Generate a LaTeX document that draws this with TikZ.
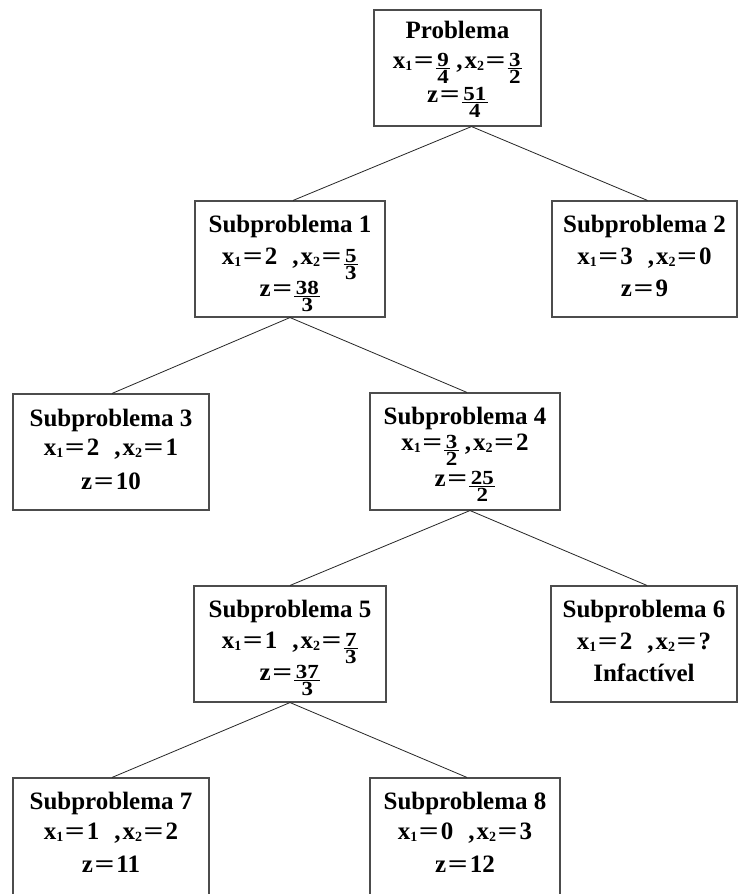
\documentclass[tikz,border=0pt]{standalone}
\usepackage{fontspec}
\usepackage{graphicx}
\setmainfont{Liberation Serif}
\usetikzlibrary{calc}
\newcommand\fsm{\fontsize{20bp}{20bp}\selectfont}
\newcommand\fr[2]{\raisebox{2bp}{\vtop{\tabskip=0pt\offinterlineskip\halign{\hfil\kern1.5bp##\kern1.5bp\hfil\cr\fsm\scalebox{1.15}[1]{#1}\cr\noalign{\kern1.5bp\hrule height 1bp\kern1.5bp}\fsm\scalebox{1.15}[1]{#2}\cr}}}}
\newcommand\sbx[1]{\raisebox{-2.5bp}{\fontsize{14bp}{14bp}\selectfont #1}}
\newcommand\eqs{\kern1.5bp\scalebox{1.4}[1]{=}\kern2bp}
\newcommand\gapd{\hspace{15bp}}
\newcommand\gapf{\hspace{6bp}}
\tikzset{
  box/.style={draw=black!70, line width=1.1bp, inner sep=0pt},
  ttl/.style={anchor=base, inner sep=0pt, font=\fontsize{25bp}{30bp}\selectfont\bfseries},
  edge/.style={draw=black!85, line width=0.8bp}
}
\begin{document}
\begin{tikzpicture}[x=1bp,y=-1bp]
\useasboundingbox (0,0) rectangle (740,894);
\clip (0,0) rectangle (740,894);
\fill[white] (0,0) rectangle (740,894);
% boxes
\node[box, minimum width=167bp, minimum height=116bp] (p)  at (457.5,68) {};
\node[box, minimum width=190bp, minimum height=116bp] (s1) at (290,259) {};
\node[box, minimum width=185bp, minimum height=116bp] (s2) at (644.5,259) {};
\node[box, minimum width=196bp, minimum height=116bp] (s3) at (111,452) {};
\node[box, minimum width=190bp, minimum height=117bp] (s4) at (465,451.5) {};
\node[box, minimum width=192bp, minimum height=116bp] (s5) at (290,644) {};
\node[box, minimum width=186bp, minimum height=116bp] (s6) at (644,644) {};
\node[box, minimum width=196bp, minimum height=124bp] (s7) at (111,840) {};
\node[box, minimum width=190bp, minimum height=124bp] (s8) at (465,840) {};
% texts
\node[ttl] (pt) at ($(p.north)+(0,29)$) {Problema};
\node[ttl] (px) at ($(p.north)+(0,59)$) {x\sbx{1}\eqs\fr{9}{4}\gapf,\kern2bp x\sbx{2}\eqs\fr{3}{2}};
\node[ttl] (pz) at ($(p.north)+(0,93)$) {z\eqs\fr{51}{4}};

\node[ttl] (s1t) at ($(s1.north)+(0,32)$) {Subproblema 1};
\node[ttl] (s1x) at ($(s1.north)+(0,64)$) {x\sbx{1}\eqs 2\gapd,\kern2bp x\sbx{2}\eqs\fr{5}{3}};
\node[ttl] (s1z) at ($(s1.north)+(0,96)$) {z\eqs\fr{38}{3}};

\node[ttl] (s2t) at ($(s2.north)+(0,32)$) {Subproblema 2};
\node[ttl] (s2x) at ($(s2.north)+(0,64)$) {x\sbx{1}\eqs 3\gapd,\kern2bp x\sbx{2}\eqs 0};
\node[ttl] (s2z) at ($(s2.north)+(0,96)$) {z\eqs 9};

\node[ttl] (s3t) at ($(s3.north)+(0,33)$) {Subproblema 3};
\node[ttl] (s3x) at ($(s3.north)+(0,62)$) {x\sbx{1}\eqs 2\gapd,\kern2bp x\sbx{2}\eqs 1};
\node[ttl] (s3z) at ($(s3.north)+(0,96)$) {z\eqs 10};

\node[ttl] (s4t) at ($(s4.north)+(0,32)$) {Subproblema 4};
\node[ttl] (s4x) at ($(s4.north)+(0,58)$) {x\sbx{1}\eqs\fr{3}{2}\gapf,\kern2bp x\sbx{2}\eqs 2};
\node[ttl] (s4z) at ($(s4.north)+(0,94)$) {z\eqs\fr{25}{2}};

\node[ttl] (s5t) at ($(s5.north)+(0,32)$) {Subproblema 5};
\node[ttl] (s5x) at ($(s5.north)+(0,63)$) {x\sbx{1}\eqs 1\gapd,\kern2bp x\sbx{2}\eqs\fr{7}{3}};
\node[ttl] (s5z) at ($(s5.north)+(0,95)$) {z\eqs\fr{37}{3}};

\node[ttl] (s6t) at ($(s6.north)+(0,32)$) {Subproblema 6};
\node[ttl] (s6x) at ($(s6.north)+(0,64)$) {x\sbx{1}\eqs 2\gapd,\kern2bp x\sbx{2}\eqs ?};
\node[ttl] (s6z) at ($(s6.north)+(0,96)$) {Infactível};

\node[ttl] (s7t) at ($(s7.north)+(0,32)$) {Subproblema 7};
\node[ttl] (s7x) at ($(s7.north)+(0,62)$) {x\sbx{1}\eqs 1\gapd,\kern2bp x\sbx{2}\eqs 2};
\node[ttl] (s7z) at ($(s7.north)+(0,95)$) {z\eqs 11};

\node[ttl] (s8t) at ($(s8.north)+(0,32)$) {Subproblema 8};
\node[ttl] (s8x) at ($(s8.north)+(0,62)$) {x\sbx{1}\eqs 0\gapd,\kern2bp x\sbx{2}\eqs 3};
\node[ttl] (s8z) at ($(s8.north)+(0,95)$) {z\eqs 12};
% connectors
\draw[edge] ([xshift=14bp]p.south) -- ([xshift=3bp]s1.north);
\draw[edge] ([xshift=14bp]p.south) -- ([xshift=3bp]s2.north);
\draw[edge] (s1.south) -- ([xshift=1bp]s3.north);
\draw[edge] (s1.south) -- ([xshift=2bp]s4.north);
\draw[edge] ([xshift=5bp]s4.south) -- (s5.north);
\draw[edge] ([xshift=5bp]s4.south) -- ([xshift=3bp]s6.north);
\draw[edge] (s5.south) -- ([xshift=1bp]s7.north);
\draw[edge] (s5.south) -- ([xshift=2bp]s8.north);
\end{tikzpicture}
\end{document}
